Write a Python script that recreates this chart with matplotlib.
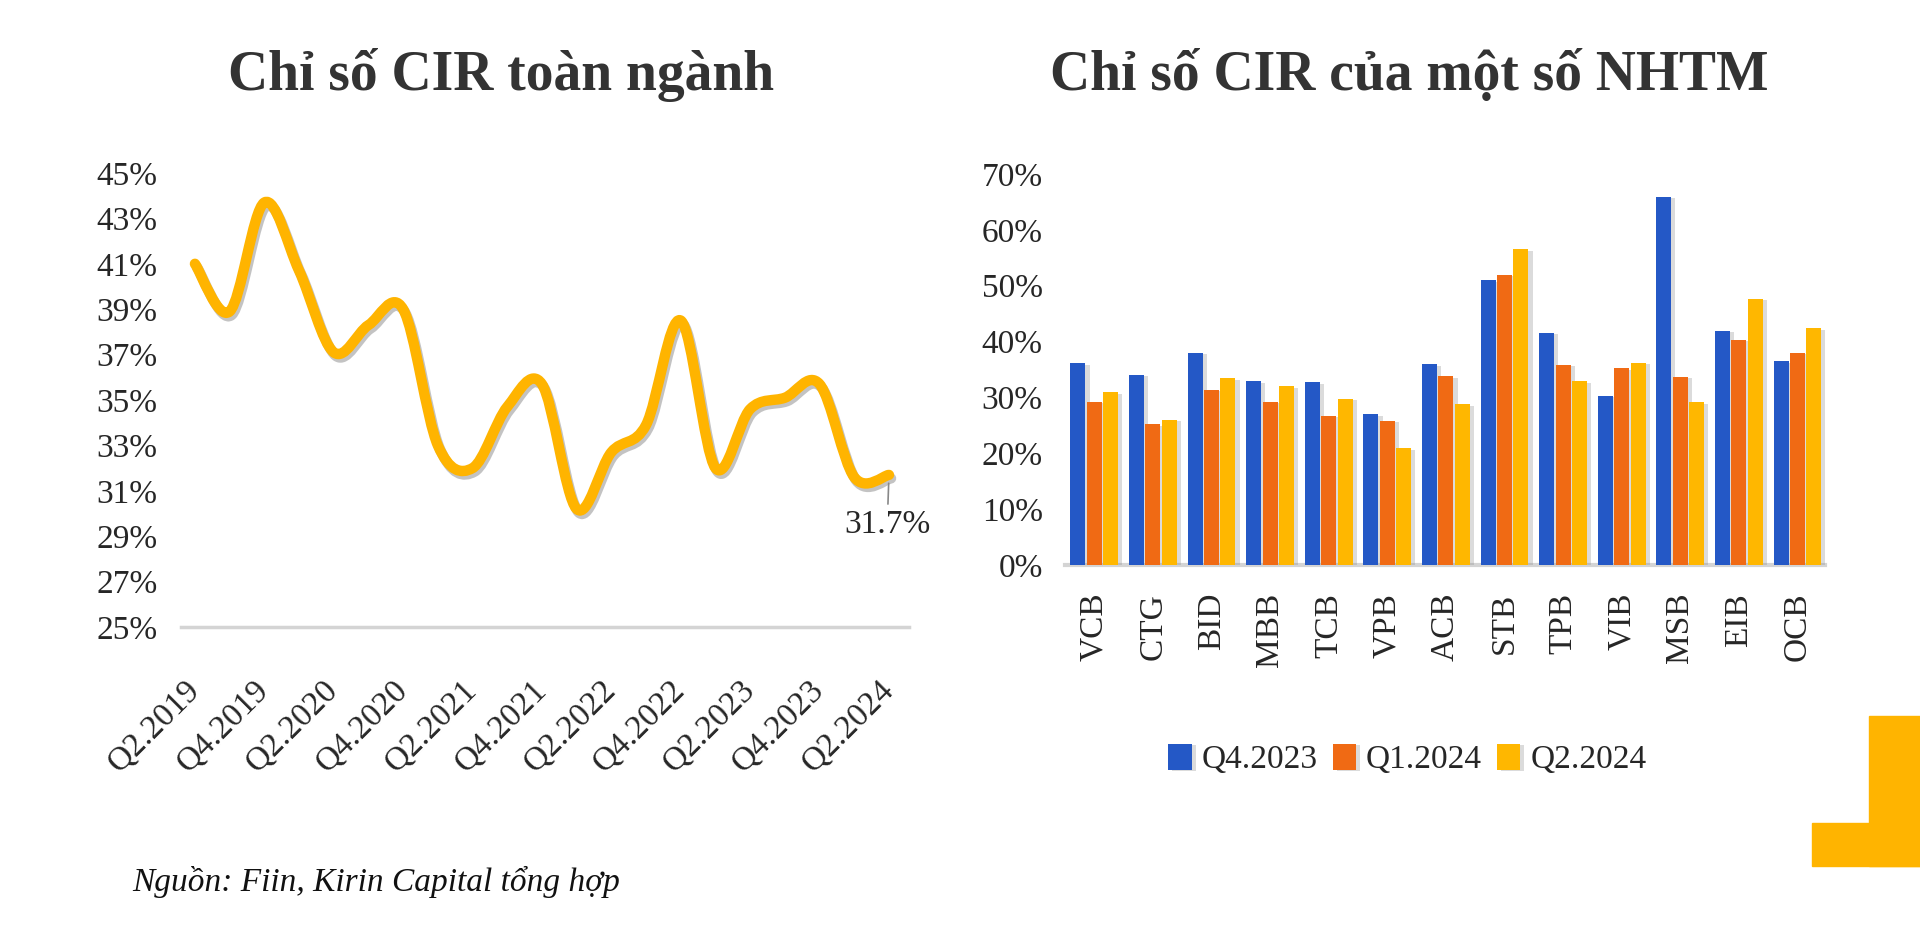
import matplotlib
matplotlib.use('Agg')
import matplotlib.pyplot as plt
from matplotlib.path import Path
from matplotlib.patches import PathPatch, Rectangle
import matplotlib.patheffects as pe
import numpy as np

plt.rcParams['font.family'] = ['Liberation Serif', 'DejaVu Serif']

# du lieu bieu do trai: CIR toan nganh theo quy
quarters = ['Q2.2019', 'Q3.2019', 'Q4.2019', 'Q1.2020', 'Q2.2020', 'Q3.2020', 'Q4.2020',
            'Q1.2021', 'Q2.2021', 'Q3.2021', 'Q4.2021', 'Q1.2022', 'Q2.2022', 'Q3.2022',
            'Q4.2022', 'Q1.2023', 'Q2.2023', 'Q3.2023', 'Q4.2023', 'Q1.2024', 'Q2.2024']
cir = [41.0, 38.9, 43.7, 40.7, 37.1, 38.3, 39.0, 33.0, 32.0, 34.7, 35.7, 30.2, 32.7, 33.9,
       38.5, 32.0, 34.6, 35.1, 35.7, 31.6, 31.7]

# du lieu bieu do phai: CIR cua mot so NHTM
banks = ['VCB', 'CTG', 'BID', 'MBB', 'TCB', 'VPB', 'ACB', 'STB', 'TPB', 'VIB', 'MSB', 'EIB', 'OCB']
q4_2023 = [36.1, 34.0, 38.0, 32.9, 32.7, 27.0, 35.9, 51.0, 41.6, 30.3, 65.9, 41.9, 36.5]
q1_2024 = [29.2, 25.2, 31.4, 29.2, 26.7, 25.8, 33.8, 51.9, 35.8, 35.2, 33.7, 40.3, 38.0]
q2_2024 = [30.9, 26.0, 33.4, 32.0, 29.8, 20.9, 28.8, 56.5, 32.9, 36.2, 29.1, 47.7, 42.4]
series_names = ['Q4.2023', 'Q1.2024', 'Q2.2024']

txt = '#262626'
gold = '#FFB400'

fig = plt.figure(figsize=(19.2, 9.31), dpi=100)

# ---- bieu do trai ----
ax1 = fig.add_axes([0.0943, 0.3265, 0.379, 0.4877])
x = np.arange(len(cir))
y = np.array(cir)
# duong cong muot (kieu Excel) qua cac diem du lieu
verts = [(x[0], y[0])]
codes = [Path.MOVETO]
n = len(x)
for i in range(n - 1):
    p0 = np.array([x[max(i - 1, 0)], y[max(i - 1, 0)]])
    p1 = np.array([x[i], y[i]])
    p2 = np.array([x[i + 1], y[i + 1]])
    p3 = np.array([x[min(i + 2, n - 1)], y[min(i + 2, n - 1)]])
    c1 = p1 + (p2 - p0) / 6
    c2 = p2 - (p3 - p1) / 6
    verts += [tuple(c1), tuple(c2), tuple(p2)]
    codes += [Path.CURVE4] * 3
patch = PathPatch(Path(verts, codes), fill=False, edgecolor=gold, lw=7.5,
                  capstyle='round', joinstyle='round',
                  path_effects=[pe.SimpleLineShadow(offset=(1.5, -2.5), shadow_color='#555555', alpha=0.35),
                                pe.Normal()])
ax1.add_patch(patch)
ax1.set_xlim(-0.4, 20.57)
ax1.set_ylim(25, 45)
ax1.set_yticks(range(25, 46, 2))
ax1.set_yticklabels([f'{v}%' for v in range(25, 46, 2)])
ax1.set_xticks(x[::2])
ax1.set_xticklabels(quarters[::2], rotation=45, ha='right', va='center', rotation_mode='anchor')
ax1.tick_params(axis='y', length=0, pad=17, labelsize=24, labelcolor=txt)
ax1.tick_params(axis='x', length=0, pad=42, labelsize=24, labelcolor=txt)
for s in ['top', 'right', 'left']:
    ax1.spines[s].set_visible(False)
ax1.spines['bottom'].set_color('#d4d4d4')
ax1.spines['bottom'].set_linewidth(2.5)
ax1.annotate('31.7%', xy=(x[-1], y[-1]), xytext=(x[-1] - 0.05, 29.5),
             ha='center', va='center', fontsize=24, color=txt,
             arrowprops=dict(arrowstyle='-', color='#888888', lw=1.2, shrinkA=2, shrinkB=6))

# ---- bieu do phai ----
ax2 = fig.add_axes([0.5547, 0.3931, 0.3958, 0.42])
xb = np.arange(len(banks))
w = 0.256
off = 0.28
colors = ['#2458C6', '#F06A14', '#FFB700']
shadow = [pe.SimplePatchShadow(offset=(3, -1), shadow_rgbFace='#888888', alpha=0.3), pe.Normal()]
for k, (vals, c) in enumerate(zip([q4_2023, q1_2024, q2_2024], colors)):
    ax2.bar(xb + (k - 1) * off, vals, width=w, color=c, label=series_names[k],
            path_effects=shadow, zorder=3)
ax2.set_xlim(-0.5, 12.47)
ax2.set_ylim(0, 70)
ax2.set_yticks(range(0, 71, 10))
ax2.set_yticklabels([f'{v}%' for v in range(0, 71, 10)])
ax2.set_xticks(xb)
ax2.set_xticklabels(banks, rotation=90, ha='center', va='top')
ax2.tick_params(axis='y', length=0, pad=16, labelsize=24, labelcolor=txt)
ax2.tick_params(axis='x', length=0, pad=20, labelsize=24, labelcolor=txt)
for s in ['top', 'right', 'left']:
    ax2.spines[s].set_visible(False)
ax2.spines['bottom'].set_color('#d4d4d4')
ax2.spines['bottom'].set_linewidth(3)
ax2.legend(loc='center', bbox_to_anchor=(0.733, 0.184), bbox_transform=fig.transFigure,
           ncol=3, frameon=False, fontsize=24, handlelength=0.7, handleheight=0.8,
           handletextpad=0.3, columnspacing=0.45, labelcolor=txt)

# ---- tieu de, nguon, logo ----
fig.text(0.261, 0.919, 'Chỉ số CIR toàn ngành', ha='center', va='center',
         fontsize=40, fontweight='bold', color='#333333')
fig.text(0.734, 0.919, 'Chỉ số CIR của một số NHTM', ha='center', va='center',
         fontsize=40, fontweight='bold', color='#333333')
fig.text(0.069, 0.0526, 'Nguồn: Fiin, Kirin Capital tổng hợp', ha='left', va='center',
         fontsize=24, style='italic', color='#111111')
fig.patches.append(Rectangle((1869 / 1920, 1 - 866 / 931), 51 / 1920, 150 / 931,
                             transform=fig.transFigure, color=gold, zorder=0))
fig.patches.append(Rectangle((1812 / 1920, 1 - 866 / 931), 108 / 1920, 43 / 931,
                             transform=fig.transFigure, color=gold, zorder=0))

fig.savefig('out.png', dpi=100)
